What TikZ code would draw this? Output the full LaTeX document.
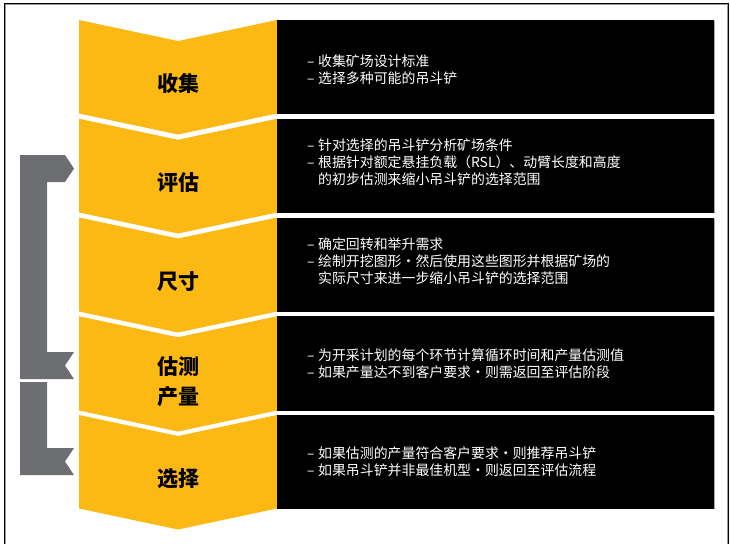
\documentclass[tikz,border=0pt]{standalone}
\usepackage{fontspec}
\newfontfamily\cjk{Noto Sans CJK SC}
\definecolor{catyellow}{HTML}{FDB913}
\definecolor{bracketgray}{HTML}{6D6E71}
\newcommand\itm[1]{\makebox[11pt][l]{–}#1}
\newcommand\cnt[1]{\hspace*{11pt}#1}
\tikzset{
  chev/.style={fill=catyellow},
  blackbox/.style={fill=black},
  boxshadow/.style={fill=black!35},
  txt/.style={text=white, font=\cjk\fontsize{13.9}{17}\selectfont, align=left, inner sep=0pt, anchor=west},
  lab/.style={text=black, font=\cjk\bfseries\fontsize{21}{30}\selectfont, align=center, inner sep=0pt},
  brk/.style={fill=bracketgray}
}
\begin{document}
\begin{tikzpicture}[x=1pt,y=-1pt]
\useasboundingbox (0,0) rectangle (730,544);
% outer frame
\draw[black!40, line width=0.8pt] (5.2,544) -- (5.2,4.7) -- (727.3,4.7) -- (727.3,544);
\draw[black, line width=1pt] (4.2,544) -- (4.2,3.6) -- (728.4,3.6) -- (728.4,544);
% rows
\foreach \t/\b in {20/113.5, 118.75/212.5, 217.5/311.5, 316.25/410.5, 415/508.5}{
  \fill[chev] (79,\t) -- (178,\t+21) -- (277,\t) -- (277,\b) -- (178,\b+21) -- (79,\b) -- cycle;
  \fill[boxshadow] (277,\t+1) rectangle (714.8,\b+0.9);
  \fill[blackbox] (277,\t) rectangle (714,\b);
}
% brackets
\fill[brk] (20,155) -- (65,155) -- (74,168.5) -- (65,182) -- (47,182) -- (47,352) -- (74,352) -- (65,365.5) -- (74,379) -- (20,379) -- cycle;
\fill[brk] (20,382) -- (47,382) -- (47,448) -- (74,448) -- (65,461.5) -- (74,475) -- (20,475) -- cycle;
% labels
\node[lab] (l1) at (178,84) {收集};
\node[lab] (l2) at (178,183) {评估};
\node[lab] (l3) at (178,282) {尺寸};
\node[lab] (l4) at (178,382) {估测\\产量};
\node[lab] (l5) at (178,479) {选择};
% texts
\node[txt] (t1) at (307,70) {\itm{收集矿场设计标准}\\\itm{选择多种可能的吊斗铲}};
\node[txt] (t2) at (307,162) {\itm{针对选择的吊斗铲分析矿场条件}\\\itm{根据针对额定悬挂负载（RSL）、动臂长度和高度}\\\cnt{的初步估测来缩小吊斗铲的选择范围}};
\node[txt] (t3) at (307,261) {\itm{确定回转和举升需求}\\\itm{绘制开挖图形・然后使用这些图形并根据矿场的}\\\cnt{实际尺寸来进一步缩小吊斗铲的选择范围}};
\node[txt] (t4) at (307,363.5) {\itm{为开采计划的每个环节计算循环时间和产量估测值}\\\itm{如果产量达不到客户要求・则需返回至评估阶段}};
\node[txt] (t5) at (307,461.5) {\itm{如果估测的产量符合客户要求・则推荐吊斗铲}\\\itm{如果吊斗铲并非最佳机型・则返回至评估流程}};
\end{tikzpicture}
\end{document}
